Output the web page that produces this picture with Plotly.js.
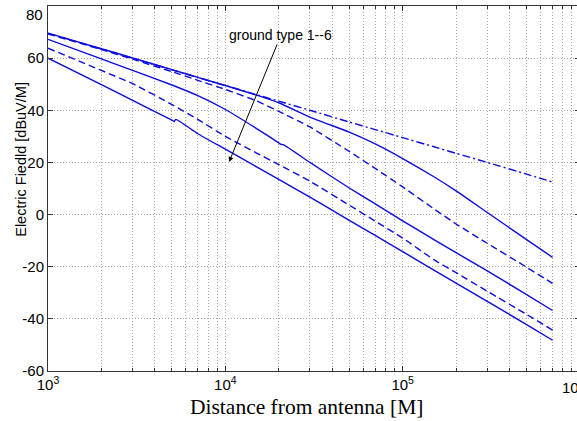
<!DOCTYPE html>
<html>
<head>
<meta charset="utf-8">
<script src="https://cdn.plot.ly/plotly-3.0.1.min.js"></script>
<style>
html,body{margin:0;padding:0;overflow:hidden;background:#fff;width:577px;height:421px;}
#chart{width:592px;height:421px;}
</style>
</head>
<body>
<div id="chart"></div>
<script>
// Distance from antenna [M]
const DIST = [1e3, 2e3, 3e3, 5e3, 7e3, 1e4, 1.5e4, 2e4, 3e4, 5e4, 7e4, 1e5, 1.5e5, 2e5, 3e5, 5e5, 7e5];
// Electric field [dBuV/M] for ground types 1..6
const GROUND_1 = [69.5, 63.5, 60.0, 55.5, 52.6, 49.5, 46.0, 43.5, 40.0, 35.5, 32.6, 29.5, 26.0, 23.5, 20.0, 15.5, 12.5];
const GROUND_2 = [69.6, 63.6, 60.1, 55.6, 52.6, 49.5, 45.8, 42.9, 37.4, 31.6, 27.1, 21.5, 14.5, 9.1, 0.8, -9.6, -16.4];
const GROUND_3 = [69.3, 63.3, 59.6, 54.8, 51.5, 48.0, 43.6, 39.6, 33.6, 24.2, 17.7, 10.6, 2.2, -3.6, -11.0, -20.2, -26.4];
const DIST_4 = [1e3, 2e3, 3e3, 5e3, 7e3, 1e4, 1.5e4, 2e4, 2.06e4, 2.12e4, 3e4, 5e4, 7e4, 1e5, 1.5e5, 2e5, 3e5, 5e5, 7e5];
const GROUND_4 = [67.2, 59.7, 55.3, 49.7, 45.6, 40.3, 33.0, 27.5, 26.9, 26.8, 20.0, 10.2, 4.1, -2.4, -9.6, -14.6, -21.6, -30.7, -36.8];
const GROUND_5 = [63.8, 55.3, 50.2, 42.2, 36.5, 30.0, 23.6, 19.2, 12.8, 3.6, -2.5, -9.0, -17.3, -22.3, -29.4, -38.3, -44.3];
const DIST_6 = [1e3, 2e3, 3e3, 5e3, 5.15e3, 5.25e3, 7e3, 1e4, 1.5e4, 2e4, 3e4, 5e4, 7e4, 1e5, 1.5e5, 2e5, 3e5, 5e5, 7e5];
const GROUND_6 = [60.0, 49.8, 43.8, 36.2, 35.7, 36.5, 31.0, 25.1, 18.3, 13.5, 6.7, -2.2, -8.0, -14.2, -21.3, -26.3, -33.3, -42.2, -48.2];

// Tick labels
const XTICKS = [1e3, 1e4, 1e5, 1e6];
const XTICKTEXT = ['10<sup>3</sup>', '10<sup>4</sup>', '10<sup>5</sup>', ''];
const YTICKS = [-60, -40, -20, 0, 20, 40, 60, 80];
const YTICKTEXT = ['-60', '-40', '-20', '0', '20', '40', '60', ''];

const blue = 'rgb(12,12,222)';
const dashStyle = '7px,4px';
const dashDot = '8px,3px,2px,3px';

const series = [
  {x: DIST, y: GROUND_1, dash: dashDot},
  {x: DIST, y: GROUND_2, dash: 'solid'},
  {x: DIST, y: GROUND_3, dash: dashStyle},
  {x: DIST_4, y: GROUND_4, dash: 'solid'},
  {x: DIST, y: GROUND_5, dash: dashStyle},
  {x: DIST_6, y: GROUND_6, dash: 'solid'}
];
const traces = series.map(s => ({
  x: s.x, y: s.y, type: 'scatter', mode: 'lines',
  line: {color: blue, width: 1.4, dash: s.dash, shape: 'spline', smoothing: 0.5},
  hoverinfo: 'skip', showlegend: false
}));

const minorVals = [];
for (let d = 1e3; d < 1e6; d *= 10) {
  for (let k = 2; k <= 9; k++) minorVals.push(d * k);
}

const sans = 'Liberation Sans, Arial, sans-serif';
const gridCol = '#a8a8a8';
const layout = {
  width: 592, height: 421,
  margin: {l: 48, r: 12, t: 6, b: 49.5},
  paper_bgcolor: '#fff', plot_bgcolor: '#fff',
  font: {family: sans, color: '#000', size: 15},
  showlegend: false,
  xaxis: {
    type: 'log', range: [3, 6],
    tickmode: 'array', tickvals: XTICKS, ticktext: XTICKTEXT,
    ticks: 'inside', ticklen: 5, tickcolor: '#333',
    showline: true, linecolor: '#333', linewidth: 1, mirror: 'ticks',
    showgrid: true, gridcolor: gridCol, griddash: '1px,2px', gridwidth: 1,
    minor: {tickmode: 'array', tickvals: minorVals, ticks: 'inside', ticklen: 3, tickcolor: '#333',
            showgrid: true, gridcolor: gridCol, griddash: '1px,2px', gridwidth: 1},
    tickfont: {size: 15, family: sans},
    zeroline: false
  },
  yaxis: {
    range: [-60, 80],
    tickmode: 'array', tickvals: YTICKS, ticktext: YTICKTEXT,
    ticks: 'inside', ticklen: 5, tickcolor: '#333',
    showline: true, linecolor: '#333', linewidth: 1, mirror: 'ticks',
    showgrid: true, gridcolor: gridCol, griddash: '1px,2px', gridwidth: 1,
    zeroline: false,
    tickfont: {size: 15, family: sans}
  },
  annotations: [
    {
      x: Math.log10(10500), y: 20.2, xref: 'x', yref: 'y',
      ax: Math.log10(20600), ay: 68.9, axref: 'x', ayref: 'y',
      text: 'ground type 1--6', showarrow: true,
      arrowhead: 2, arrowsize: 1, arrowwidth: 1, arrowcolor: '#000',
      font: {size: 14, color: '#000', family: sans}
    },
    {
      // y-axis title
      x: (21 - 48) / 532, y: (371.5 - 160) / 365.5, xref: 'paper', yref: 'paper',
      xanchor: 'center', yanchor: 'middle', showarrow: false, textangle: -90,
      text: 'Electric Fiedld [dBuV/M]',
      font: {family: sans, size: 14.5, color: '#000'}
    },
    {
      // x-axis title
      x: (306.5 - 48) / 532, y: (371.5 - 407.5) / 365.5, xref: 'paper', yref: 'paper',
      xanchor: 'center', yanchor: 'middle', showarrow: false,
      text: 'Distance from antenna [M]',
      font: {family: 'Liberation Serif, Times New Roman, serif', size: 21.5, color: '#000'}
    },
    {
      // last decade label (cut by the figure edge in the original)
      x: (560 - 48) / 532, y: 0, xref: 'paper', yref: 'paper',
      xanchor: 'left', yanchor: 'top', yshift: -4, showarrow: false,
      text: '10<sup>6</sup>', font: {size: 15, family: sans, color: '#000'}
    },
    {
      // top y label
      x: 0, y: (371.5 - 15) / 365.5, xref: 'paper', yref: 'paper',
      xanchor: 'right', yanchor: 'middle', xshift: -3, showarrow: false,
      text: '80', font: {size: 15, family: sans, color: '#000'}
    }
  ]
};

Plotly.newPlot('chart', traces, layout, {displayModeBar: false, staticPlot: true});
</script>
</body>
</html>
